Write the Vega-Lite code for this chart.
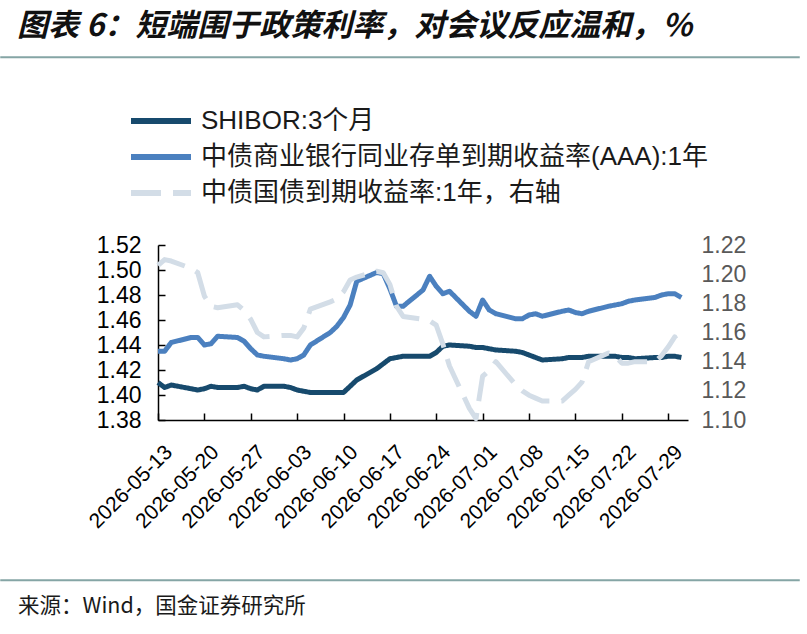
{
  "$schema": "https://vega.github.io/schema/vega-lite/v6.json",
  "background": "white",
  "padding": {"left": 0, "top": 10, "right": 0, "bottom": 0},
  "spacing": 47,
  "resolve": {"legend": {"color": "independent", "strokeDash": "independent"}},
  "config": {"view": {"stroke": null}, "font": "Liberation Sans"},
  "datasets": {
    "rates": [
      {"date": "2026-05-13", "SHIBOR:3个月": 1.410, "中债商业银行同业存单到期收益率(AAA):1年": 1.435, "中债国债到期收益率:1年，右轴": 1.206},
      {"date": "2026-05-14", "SHIBOR:3个月": 1.406, "中债商业银行同业存单到期收益率(AAA):1年": 1.435, "中债国债到期收益率:1年，右轴": 1.210},
      {"date": "2026-05-15", "SHIBOR:3个月": 1.408, "中债商业银行同业存单到期收益率(AAA):1年": 1.442, "中债国债到期收益率:1年，右轴": 1.209},
      {"date": "2026-05-18", "SHIBOR:3个月": 1.405, "中债商业银行同业存单到期收益率(AAA):1年": 1.446, "中债国债到期收益率:1年，右轴": 1.204},
      {"date": "2026-05-19", "SHIBOR:3个月": 1.404, "中债商业银行同业存单到期收益率(AAA):1年": 1.446, "中债国债到期收益率:1年，右轴": 1.201},
      {"date": "2026-05-20", "SHIBOR:3个月": 1.405, "中债商业银行同业存单到期收益率(AAA):1年": 1.440, "中债国债到期收益率:1年，右轴": 1.185},
      {"date": "2026-05-21", "SHIBOR:3个月": 1.407, "中债商业银行同业存单到期收益率(AAA):1年": 1.441, "中债国债到期收益率:1年，右轴": 1.178},
      {"date": "2026-05-22", "SHIBOR:3个月": 1.406, "中债商业银行同业存单到期收益率(AAA):1年": 1.447, "中债国债到期收益率:1年，右轴": 1.177},
      {"date": "2026-05-25", "SHIBOR:3个月": 1.406, "中债商业银行同业存单到期收益率(AAA):1年": 1.446, "中债国债到期收益率:1年，右轴": 1.179},
      {"date": "2026-05-26", "SHIBOR:3个月": 1.407, "中债商业银行同业存单到期收益率(AAA):1年": 1.443, "中债国债到期收益率:1年，右轴": 1.175},
      {"date": "2026-05-27", "SHIBOR:3个月": 1.405, "中债商业银行同业存单到期收益率(AAA):1年": 1.437, "中债国债到期收益率:1年，右轴": 1.169},
      {"date": "2026-05-28", "SHIBOR:3个月": 1.404, "中债商业银行同业存单到期收益率(AAA):1年": 1.432, "中债国债到期收益率:1年，右轴": 1.160},
      {"date": "2026-05-29", "SHIBOR:3个月": 1.407, "中债商业银行同业存单到期收益率(AAA):1年": 1.431, "中债国债到期收益率:1年，右轴": 1.157},
      {"date": "2026-06-01", "SHIBOR:3个月": 1.407, "中债商业银行同业存单到期收益率(AAA):1年": 1.429, "中债国债到期收益率:1年，右轴": 1.158},
      {"date": "2026-06-02", "SHIBOR:3个月": 1.406, "中债商业银行同业存单到期收益率(AAA):1年": 1.428, "中债国债到期收益率:1年，右轴": 1.158},
      {"date": "2026-06-03", "SHIBOR:3个月": 1.404, "中债商业银行同业存单到期收益率(AAA):1年": 1.429, "中债国债到期收益率:1年，右轴": 1.157},
      {"date": "2026-06-04", "SHIBOR:3个月": 1.403, "中债商业银行同业存单到期收益率(AAA):1年": 1.432, "中债国债到期收益率:1年，右轴": 1.163},
      {"date": "2026-06-05", "SHIBOR:3个月": 1.402, "中债商业银行同业存单到期收益率(AAA):1年": 1.440, "中债国债到期收益率:1年，右轴": 1.176},
      {"date": "2026-06-08", "SHIBOR:3个月": 1.402, "中债商业银行同业存单到期收益率(AAA):1年": 1.450, "中债国债到期收益率:1年，右轴": 1.181},
      {"date": "2026-06-09", "SHIBOR:3个月": 1.402, "中债商业银行同业存单到期收益率(AAA):1年": 1.455, "中债国债到期收益率:1年，右轴": 1.183},
      {"date": "2026-06-10", "SHIBOR:3个月": 1.402, "中债商业银行同业存单到期收益率(AAA):1年": 1.462, "中债国债到期收益率:1年，右轴": 1.188},
      {"date": "2026-06-11", "SHIBOR:3个月": 1.407, "中债商业银行同业存单到期收益率(AAA):1年": 1.472, "中债国债到期收益率:1年，右轴": 1.196},
      {"date": "2026-06-12", "SHIBOR:3个月": 1.412, "中债商业银行同业存单到期收益率(AAA):1年": 1.491, "中债国债到期收益率:1年，右轴": 1.198},
      {"date": "2026-06-15", "SHIBOR:3个月": 1.421, "中债商业银行同业存单到期收益率(AAA):1年": 1.498, "中债国债到期收益率:1年，右轴": 1.202},
      {"date": "2026-06-16", "SHIBOR:3个月": 1.425, "中债商业银行同业存单到期收益率(AAA):1年": 1.497, "中债国债到期收益率:1年，右轴": 1.201},
      {"date": "2026-06-17", "SHIBOR:3个月": 1.429, "中债商业银行同业存单到期收益率(AAA):1年": 1.485, "中债国债到期收益率:1年，右轴": 1.193},
      {"date": "2026-06-18", "SHIBOR:3个月": 1.430, "中债商业银行同业存单到期收益率(AAA):1年": 1.471, "中债国债到期收益率:1年，右轴": 1.178},
      {"date": "2026-06-19", "SHIBOR:3个月": 1.431, "中债商业银行同业存单到期收益率(AAA):1年": 1.471, "中债国债到期收益率:1年，右轴": 1.171},
      {"date": "2026-06-22", "SHIBOR:3个月": 1.431, "中债商业银行同业存单到期收益率(AAA):1年": 1.484, "中债国债到期收益率:1年，右轴": 1.169},
      {"date": "2026-06-23", "SHIBOR:3个月": 1.431, "中债商业银行同业存单到期收益率(AAA):1年": 1.495, "中债国债到期收益率:1年，右轴": 1.168},
      {"date": "2026-06-24", "SHIBOR:3个月": 1.434, "中债商业银行同业存单到期收益率(AAA):1年": 1.487, "中债国债到期收益率:1年，右轴": 1.165},
      {"date": "2026-06-25", "SHIBOR:3个月": 1.439, "中债商业银行同业存单到期收益率(AAA):1年": 1.481, "中债国债到期收益率:1年，右轴": 1.152},
      {"date": "2026-06-26", "SHIBOR:3个月": 1.440, "中债商业银行同业存单到期收益率(AAA):1年": 1.483, "中债国债到期收益率:1年，右轴": 1.137},
      {"date": "2026-06-29", "SHIBOR:3个月": 1.439, "中债商业银行同业存单到期收益率(AAA):1年": 1.467, "中债国债到期收益率:1年，右轴": 1.108},
      {"date": "2026-06-30", "SHIBOR:3个月": 1.438, "中债商业银行同业存单到期收益率(AAA):1年": 1.463, "中债国债到期收益率:1年，右轴": 1.101},
      {"date": "2026-07-01", "SHIBOR:3个月": 1.438, "中债商业银行同业存单到期收益率(AAA):1年": 1.476, "中债国债到期收益率:1年，右轴": 1.130},
      {"date": "2026-07-02", "SHIBOR:3个月": 1.437, "中债商业银行同业存单到期收益率(AAA):1年": 1.468, "中债国债到期收益率:1年，右轴": 1.134},
      {"date": "2026-07-03", "SHIBOR:3个月": 1.436, "中债商业银行同业存单到期收益率(AAA):1年": 1.465, "中债国债到期收益率:1年，右轴": 1.140},
      {"date": "2026-07-06", "SHIBOR:3个月": 1.435, "中债商业银行同业存单到期收益率(AAA):1年": 1.461, "中债国债到期收益率:1年，右轴": 1.124},
      {"date": "2026-07-07", "SHIBOR:3个月": 1.434, "中债商业银行同业存单到期收益率(AAA):1年": 1.461, "中债国债到期收益率:1年，右轴": 1.120},
      {"date": "2026-07-08", "SHIBOR:3个月": 1.432, "中债商业银行同业存单到期收益率(AAA):1年": 1.464, "中债国债到期收益率:1年，右轴": 1.117},
      {"date": "2026-07-09", "SHIBOR:3个月": 1.430, "中债商业银行同业存单到期收益率(AAA):1年": 1.465, "中债国债到期收益率:1年，右轴": 1.115},
      {"date": "2026-07-10", "SHIBOR:3个月": 1.428, "中债商业银行同业存单到期收益率(AAA):1年": 1.463, "中债国债到期收益率:1年，右轴": 1.113},
      {"date": "2026-07-13", "SHIBOR:3个月": 1.429, "中债商业银行同业存单到期收益率(AAA):1年": 1.467, "中债国债到期收益率:1年，右轴": 1.113},
      {"date": "2026-07-14", "SHIBOR:3个月": 1.430, "中债商业银行同业存单到期收益率(AAA):1年": 1.468, "中债国债到期收益率:1年，右轴": 1.117},
      {"date": "2026-07-15", "SHIBOR:3个月": 1.430, "中债商业银行同业存单到期收益率(AAA):1年": 1.466, "中债国债到期收益率:1年，右轴": 1.121},
      {"date": "2026-07-16", "SHIBOR:3个月": 1.430, "中债商业银行同业存单到期收益率(AAA):1年": 1.465, "中债国债到期收益率:1年，右轴": 1.126},
      {"date": "2026-07-17", "SHIBOR:3个月": 1.431, "中债商业银行同业存单到期收益率(AAA):1年": 1.467, "中债国债到期收益率:1年，右轴": 1.140},
      {"date": "2026-07-20", "SHIBOR:3个月": 1.431, "中债商业银行同业存单到期收益率(AAA):1年": 1.471, "中债国债到期收益率:1年，右轴": 1.146},
      {"date": "2026-07-21", "SHIBOR:3个月": 1.431, "中债商业银行同业存单到期收益率(AAA):1年": 1.472, "中债国债到期收益率:1年，右轴": 1.144},
      {"date": "2026-07-22", "SHIBOR:3个月": 1.430, "中债商业银行同业存单到期收益率(AAA):1年": 1.473, "中债国债到期收益率:1年，右轴": 1.139},
      {"date": "2026-07-23", "SHIBOR:3个月": 1.430, "中债商业银行同业存单到期收益率(AAA):1年": 1.475, "中债国债到期收益率:1年，右轴": 1.139},
      {"date": "2026-07-24", "SHIBOR:3个月": 1.429, "中债商业银行同业存单到期收益率(AAA):1年": 1.476, "中债国债到期收益率:1年，右轴": 1.140},
      {"date": "2026-07-27", "SHIBOR:3个月": 1.430, "中债商业银行同业存单到期收益率(AAA):1年": 1.478, "中债国债到期收益率:1年，右轴": 1.140},
      {"date": "2026-07-28", "SHIBOR:3个月": 1.430, "中债商业银行同业存单到期收益率(AAA):1年": 1.480, "中债国债到期收益率:1年，右轴": 1.144},
      {"date": "2026-07-29", "SHIBOR:3个月": 1.431, "中债商业银行同业存单到期收益率(AAA):1年": 1.481, "中债国债到期收益率:1年，右轴": 1.150},
      {"date": "2026-07-30", "SHIBOR:3个月": 1.431, "中债商业银行同业存单到期收益率(AAA):1年": 1.481, "中债国债到期收益率:1年，右轴": 1.157},
      {"date": "2026-07-31", "SHIBOR:3个月": 1.430, "中债商业银行同业存单到期收益率(AAA):1年": 1.478, "中债国债到期收益率:1年，右轴": 1.150}
    ]
  },
  "vconcat": [
    {
      "data": {"values": []},
      "mark": "point",
      "width": 798,
      "height": 0.5,
      "view": {"stroke": "#85a5a5", "strokeWidth": 1.5},
      "title": {
        "text": "图表 6：短端围于政策利率，对会议反应温和，%",
        "anchor": "start",
        "dx": 16,
        "offset": 14,
        "font": "Noto Sans CJK SC",
        "fontSize": 31,
        "fontWeight": "bold",
        "fontStyle": "italic",
        "color": "#111111"
      }
    },
    {
      "spacing": 0,
      "resolve": {"legend": {"color": "independent", "strokeDash": "independent"}},
      "hconcat": [
        {"data": {"values": []}, "mark": "point", "width": 84, "height": 1},
        {
          "width": 530,
          "height": 175,
          "data": {"name": "rates"},
          "layer": [
            {
              "transform": [{"fold": ["SHIBOR:3个月", "中债商业银行同业存单到期收益率(AAA):1年"], "as": ["series", "value"]}],
              "mark": {"type": "line", "strokeWidth": 5, "strokeJoin": "round", "strokeCap": "butt"},
              "encoding": {
                "x": {
                  "field": "date", "type": "temporal",
                  "scale": {"type": "utc", "domain": [{"year": 2026, "month": 5, "date": 13, "utc": true}, {"year": 2026, "month": 8, "date": 1, "utc": true}]},
                  "axis": {
                    "title": null, "grid": false, "format": "%Y-%m-%d", "labelAngle": -45, "labelFlush": false, "labelOverlap": false,
                    "values": [
                      {"year": 2026, "month": 5, "date": 13, "utc": true}, {"year": 2026, "month": 5, "date": 20, "utc": true},
                      {"year": 2026, "month": 5, "date": 27, "utc": true}, {"year": 2026, "month": 6, "date": 3, "utc": true},
                      {"year": 2026, "month": 6, "date": 10, "utc": true}, {"year": 2026, "month": 6, "date": 17, "utc": true},
                      {"year": 2026, "month": 6, "date": 24, "utc": true}, {"year": 2026, "month": 7, "date": 1, "utc": true},
                      {"year": 2026, "month": 7, "date": 8, "utc": true}, {"year": 2026, "month": 7, "date": 15, "utc": true},
                      {"year": 2026, "month": 7, "date": 22, "utc": true}, {"year": 2026, "month": 7, "date": 29, "utc": true}
                    ],
                    "labelFont": "Liberation Sans", "labelFontSize": 21, "labelColor": "#000000", "labelPadding": 28, "labelOffset": 3,
                    "domainColor": "#000000", "domainWidth": 1.5, "tickColor": "#000000", "tickWidth": 1.5, "tickSize": -7
                  }
                },
                "y": {
                  "field": "value", "type": "quantitative",
                  "scale": {"domain": [1.38, 1.52], "zero": false, "nice": false},
                  "axis": {
                    "title": null, "grid": false, "format": ".2f", "values": [1.38, 1.40, 1.42, 1.44, 1.46, 1.48, 1.50, 1.52],
                    "labelFont": "Liberation Sans", "labelFontSize": 23, "labelColor": "#000000", "labelPadding": 24, "labelOverlap": false,
                    "domainColor": "#000000", "domainWidth": 1.5, "tickColor": "#000000", "tickWidth": 1.5, "tickSize": -7
                  }
                },
                "color": {
                  "field": "series", "type": "nominal",
                  "scale": {"domain": ["SHIBOR:3个月", "中债商业银行同业存单到期收益率(AAA):1年", "中债国债到期收益率:1年，右轴"], "range": ["#174a6d", "#4b80bf", "#d3dde7"]},
                  "legend": {"title": null, "orient": "top", "offset": 39, "direction": "vertical", "symbolType": "M-2.5,0H2.5", "symbolSize": 576, "symbolStrokeWidth": 6, "symbolOffset": -12, "labelFont": "Liberation Sans, Noto Sans CJK SC", "labelFontSize": 26, "labelColor": "#1a1a1a", "labelOffset": 25, "rowPadding": 8, "labelLimit": 700}
                },
                "strokeDash": {
                  "field": "series", "type": "nominal",
                  "scale": {"domain": ["SHIBOR:3个月", "中债商业银行同业存单到期收益率(AAA):1年", "中债国债到期收益率:1年，右轴"], "range": [[1, 0], [1, 0], [30, 12]]},
                  "legend": {"title": null, "orient": "top", "offset": 39, "direction": "vertical", "symbolType": "M-2.5,0H2.5", "symbolSize": 576, "symbolStrokeWidth": 6, "symbolOffset": -12, "labelFont": "Liberation Sans, Noto Sans CJK SC", "labelFontSize": 26, "labelColor": "#1a1a1a", "labelOffset": 25, "rowPadding": 8, "labelLimit": 700}
                }
              }
            },
            {
              "transform": [{"fold": ["中债国债到期收益率:1年，右轴"], "as": ["series", "value"]}],
              "mark": {"type": "line", "strokeWidth": 5, "strokeJoin": "round", "strokeCap": "butt"},
              "encoding": {
                "x": {"field": "date", "type": "temporal"},
                "y": {
                  "field": "value", "type": "quantitative",
                  "scale": {"domain": [1.10, 1.22], "zero": false, "nice": false},
                  "axis": {
                    "orient": "right", "title": null, "grid": false, "format": ".2f", "values": [1.10, 1.12, 1.14, 1.16, 1.18, 1.20, 1.22],
                    "domain": false, "ticks": false, "labelFont": "Liberation Sans", "labelFontSize": 23, "labelColor": "#595959", "labelPadding": 13, "labelOverlap": false
                  }
                },
                "color": {"field": "series", "type": "nominal"},
                "strokeDash": {"field": "series", "type": "nominal"}
              }
            }
          ],
          "resolve": {"scale": {"y": "independent"}}
        }
      ]
    },
    {
      "data": {"values": []},
      "mark": "point",
      "width": 798,
      "height": 0.5,
      "view": {"stroke": "#85a5a5", "strokeWidth": 1.5},
      "title": {
        "text": "来源：Wind，国金证券研究所",
        "orient": "bottom",
        "anchor": "start",
        "dx": 17,
        "offset": 15,
        "font": "Noto Sans CJK SC",
        "fontSize": 21.5,
        "fontWeight": "normal",
        "color": "#1a1a1a"
      }
    }
  ]
}
